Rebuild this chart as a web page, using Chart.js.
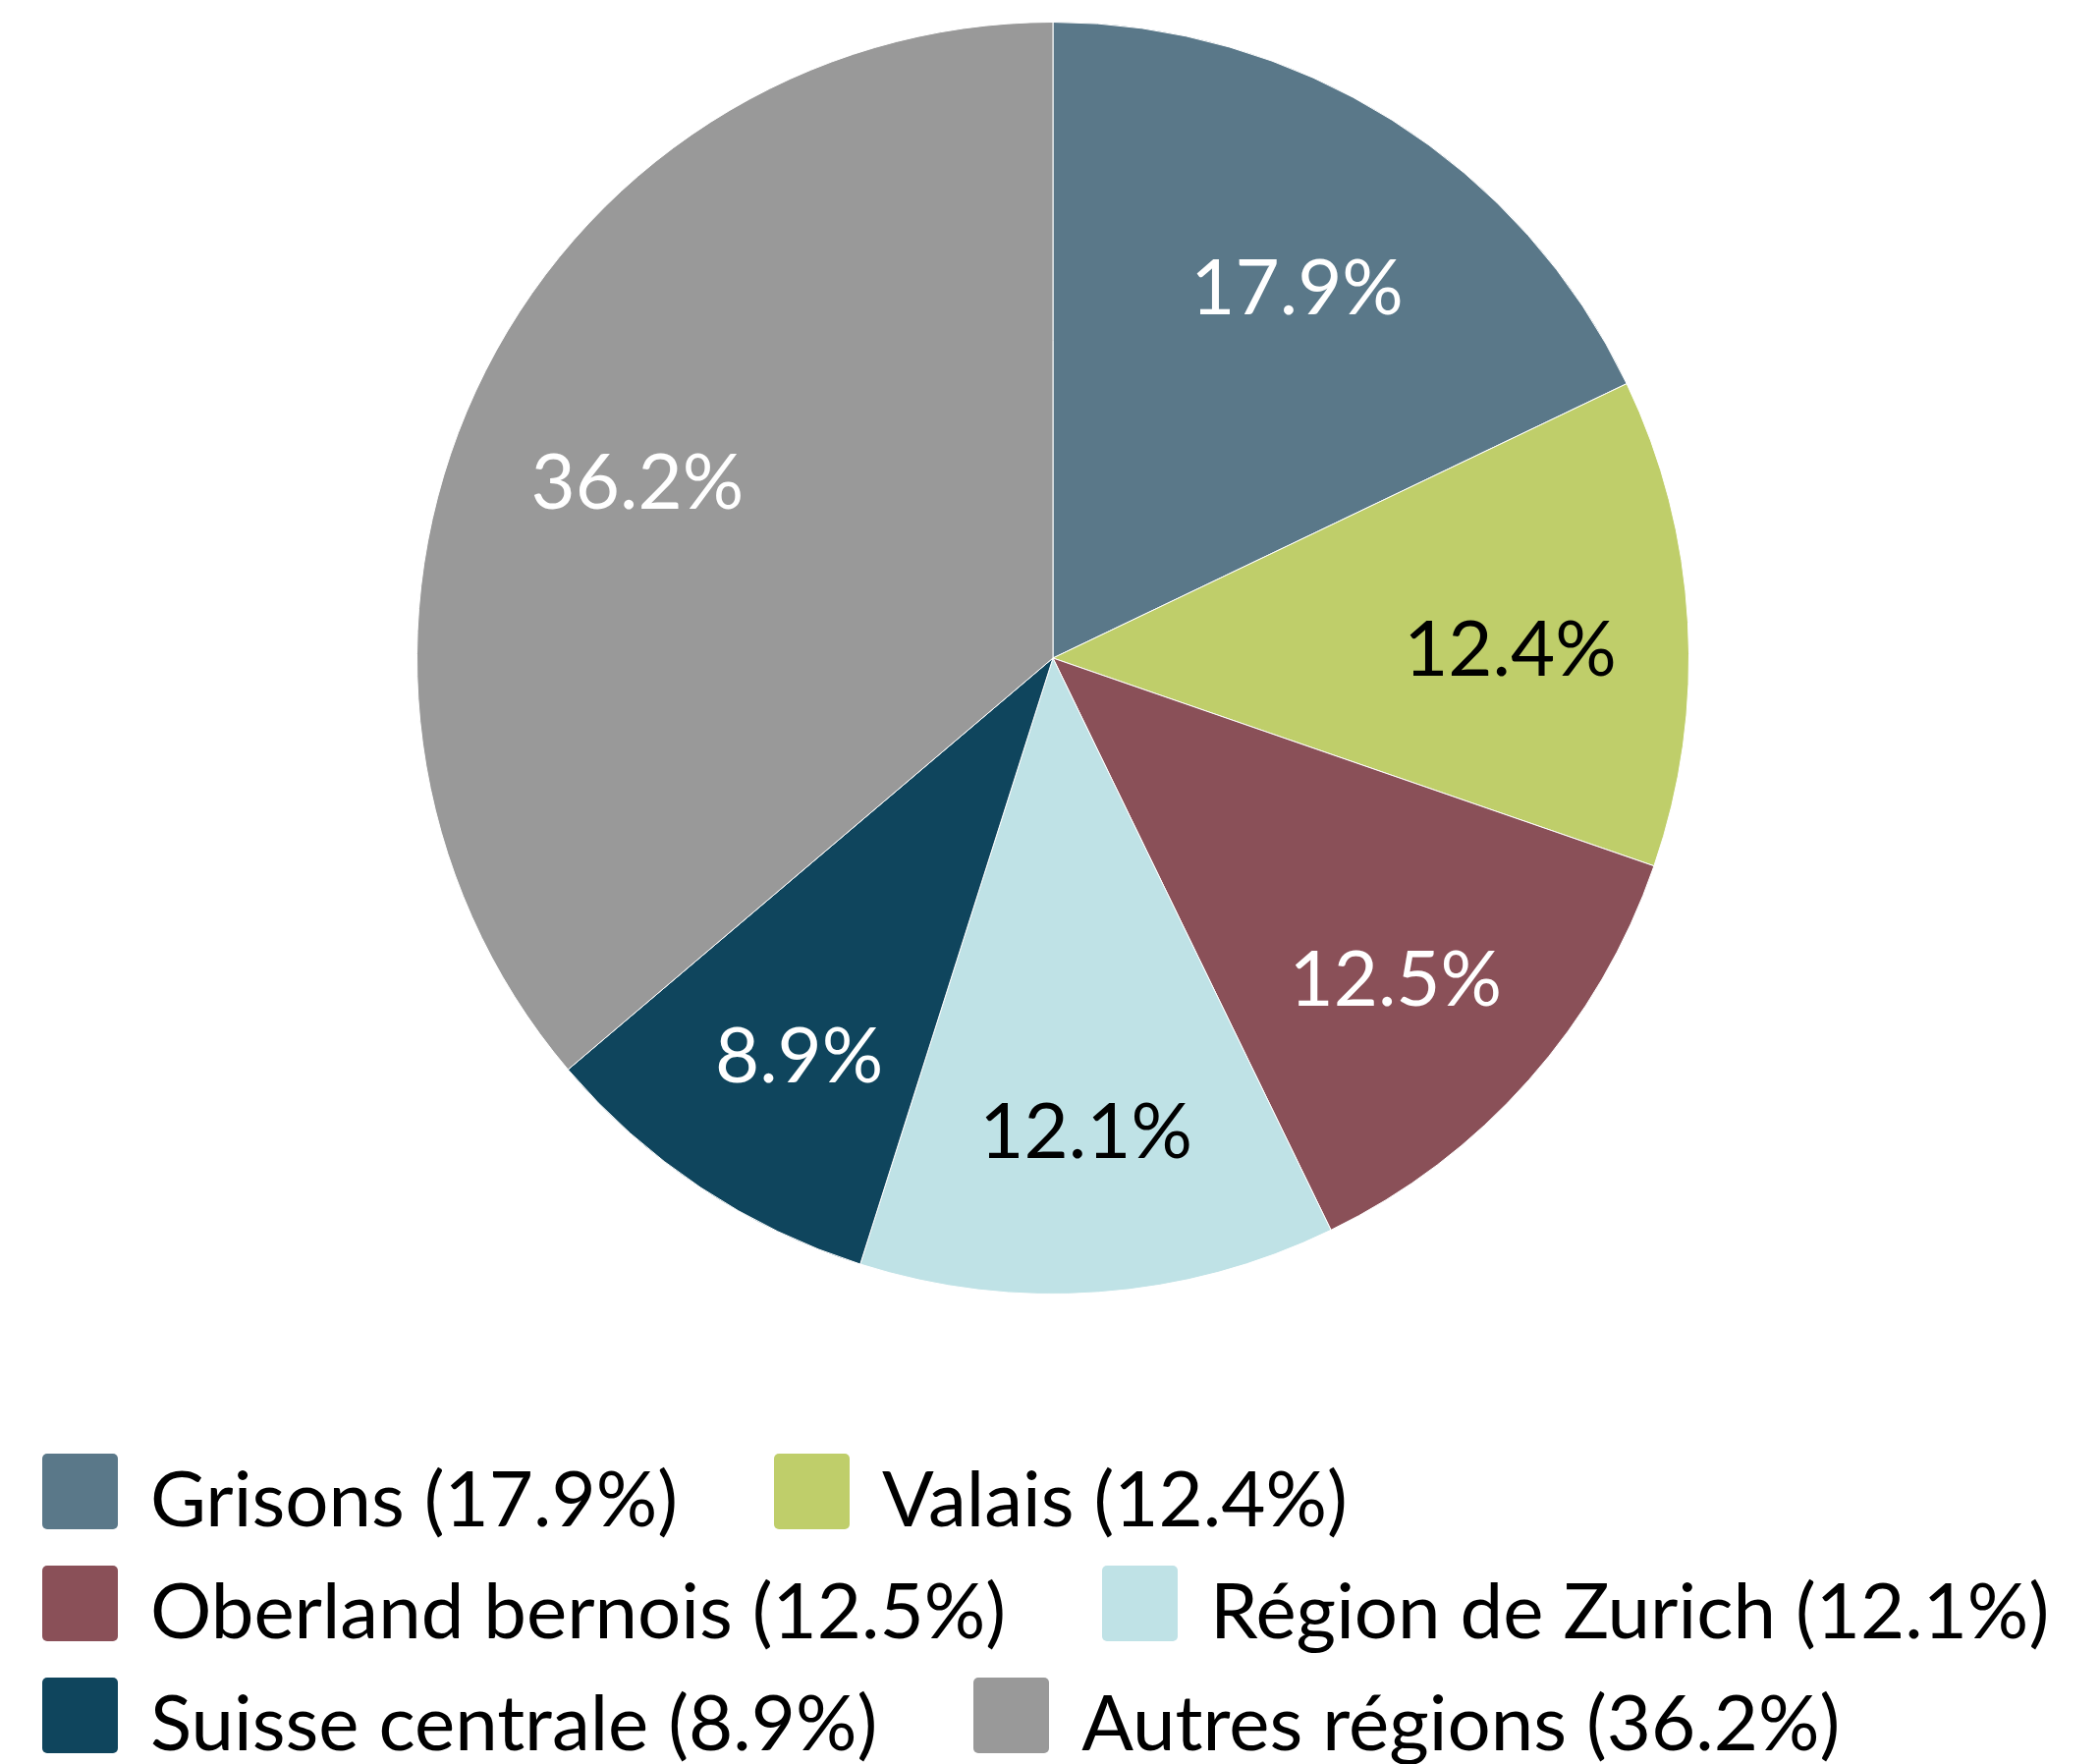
<!DOCTYPE html>
<html>
<head>
<meta charset="utf-8">
<script src="https://cdn.jsdelivr.net/npm/chart.js@4.4.1/dist/chart.umd.min.js"></script>
<style>
    html, body { margin: 0; padding: 0; background: #ffffff; }
    body { width: 2138px; height: 1796px; position: relative; overflow: hidden; font-family: 'Lato', sans-serif; }
    #chartBox { position: absolute; left: 0; top: 0; width: 2138px; height: 1340px; }
    #legend { position: absolute; left: 43px; top: 1480px; }
    .legend-row { position: absolute; left: 0; height: 77px; display: flex; align-items: flex-start; white-space: nowrap; }
    .legend-item { display: flex; align-items: flex-start; margin-right: 98px; }
    .legend-box { width: 77px; height: 77px; border-radius: 5px; margin-right: 33px; flex: none; }
    .legend-text { font-size: 78px; line-height: 77px; height: 77px; color: #000000; position: relative; top: 6px; }
</style>
</head>
<body>
<div id="chartBox"><canvas id="myChart"></canvas></div>
<div id="legend"></div>

<script>
const regions = ['Grisons', 'Valais', 'Oberland bernois', 'Région de Zurich', 'Suisse centrale', 'Autres régions'];
const shares = [17.9, 12.4, 12.5, 12.1, 8.9, 36.2];
const sliceColors = ['#5a7889', '#bfce6a', '#8a5058', '#bfe2e6', '#0f455d', '#999999'];
const labelColors = ['#ffffff', '#000000', '#ffffff', '#000000', '#ffffff', '#ffffff'];
const legendRows = [[0, 1], [2, 3], [4, 5]];

// percentage labels inside slices
const sliceLabels = {
    id: 'sliceLabels',
    afterDatasetsDraw(chart) {
        const ctx = chart.ctx;
        const arcs = chart.getDatasetMeta(0).data;
        ctx.save();
        ctx.font = '78px Lato';
        ctx.textAlign = 'center';
        ctx.textBaseline = 'middle';
        arcs.forEach((arc, i) => {
            const p = arc.getProps(['x', 'y', 'startAngle', 'endAngle', 'outerRadius'], true);
            const mid = (p.startAngle + p.endAngle) / 2;
            const d = p.outerRadius * 0.72;
            ctx.fillStyle = labelColors[i];
            ctx.fillText(shares[i].toFixed(1) + '%', p.x + Math.cos(mid) * d, p.y + Math.sin(mid) * d + 19);
        });
        ctx.restore();
    }
};

var ctx = document.getElementById('myChart').getContext('2d');
var myChart = new Chart(ctx, {
    type: 'pie',
    data: {
        labels: regions,
        datasets: [{
            data: shares,
            backgroundColor: sliceColors,
            borderColor: '#ffffff',
            borderWidth: 1
        }]
    },
    options: {
        responsive: true,
        maintainAspectRatio: false,
        animation: false,
        layout: { padding: { top: 22, bottom: 22, left: 6, right: 0 } },
        plugins: {
            legend: { display: false },
            tooltip: { enabled: false }
        }
    },
    plugins: [sliceLabels]
});

// legend, two items per row
const legend = document.getElementById('legend');
legendRows.forEach((row, r) => {
    const rowDiv = document.createElement('div');
    rowDiv.className = 'legend-row';
    rowDiv.style.top = (r * 114) + 'px';
    row.forEach((i) => {
        const item = document.createElement('div');
        item.className = 'legend-item';
        const box = document.createElement('div');
        box.className = 'legend-box';
        box.style.background = sliceColors[i];
        const text = document.createElement('span');
        text.className = 'legend-text';
        text.textContent = regions[i] + ' (' + shares[i].toFixed(1) + '%)';
        item.appendChild(box);
        item.appendChild(text);
        rowDiv.appendChild(item);
    });
    legend.appendChild(rowDiv);
});
</script>
</body>
</html>
